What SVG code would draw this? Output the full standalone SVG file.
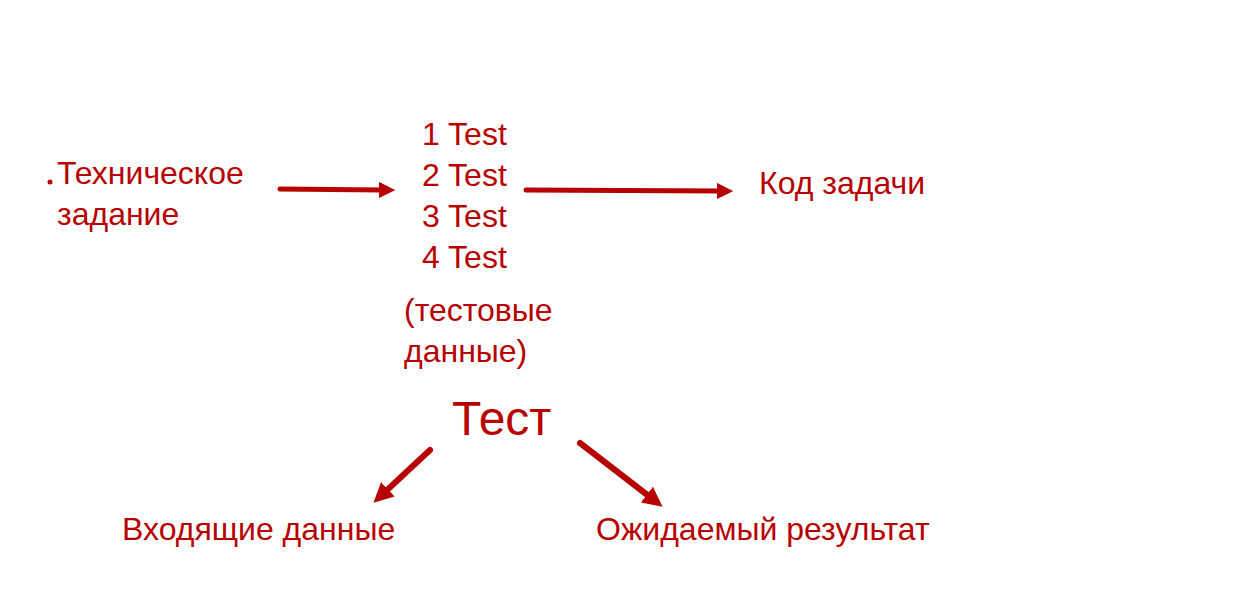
<svg xmlns="http://www.w3.org/2000/svg" width="1245" height="613" viewBox="0 0 1245 613">
<style>
.t{font-family:"Liberation Sans",Arial,sans-serif;fill:#b70000;font-size:32px}
.big{font-size:48px}
.c{stroke:#b70000;stroke-width:5;fill:none;stroke-linecap:round}
.d{stroke-width:6}
</style>
<defs>
<marker id="ah" viewBox="0 0 10 10" refX="2" refY="5" markerWidth="3.3" markerHeight="3.3" markerUnits="strokeWidth" orient="auto">
<path d="M0,0 L10,5 L0,10 z" fill="#b70000"/>
</marker>
</defs>
<rect width="1245" height="613" fill="#ffffff"/>
<g id="n-tz">
<circle cx="50" cy="182" r="2.5" fill="#b70000"/>
<text class="t" x="57" y="184">Техническое</text>
<text class="t" x="57" y="225">задание</text>
</g>
<g id="n-tests">
<text class="t" x="422" y="145">1 Test</text>
<text class="t" x="422" y="186">2 Test</text>
<text class="t" x="422" y="227">3 Test</text>
<text class="t" x="422" y="268">4 Test</text>
<text class="t" x="404" y="321">(тестовые</text>
<text class="t" x="404" y="362">данные)</text>
</g>
<g id="n-kod"><text class="t" x="759" y="194">Код задачи</text></g>
<g id="n-test"><text class="t big" x="452" y="435">Тест</text></g>
<g id="n-in"><text class="t" x="122" y="540">Входящие данные</text></g>
<g id="n-out"><text class="t" x="596" y="540">Ожидаемый результат</text></g>
<g id="connectors">
<line class="c" x1="280" y1="189" x2="382" y2="190" marker-end="url(#ah)"/>
<line class="c" x1="526" y1="190" x2="720" y2="191" marker-end="url(#ah)"/>
<line class="c d" x1="430" y1="450" x2="385" y2="492" marker-end="url(#ah)"/>
<line class="c d" x1="580" y1="443" x2="650" y2="497" marker-end="url(#ah)"/>
</g>
</svg>
